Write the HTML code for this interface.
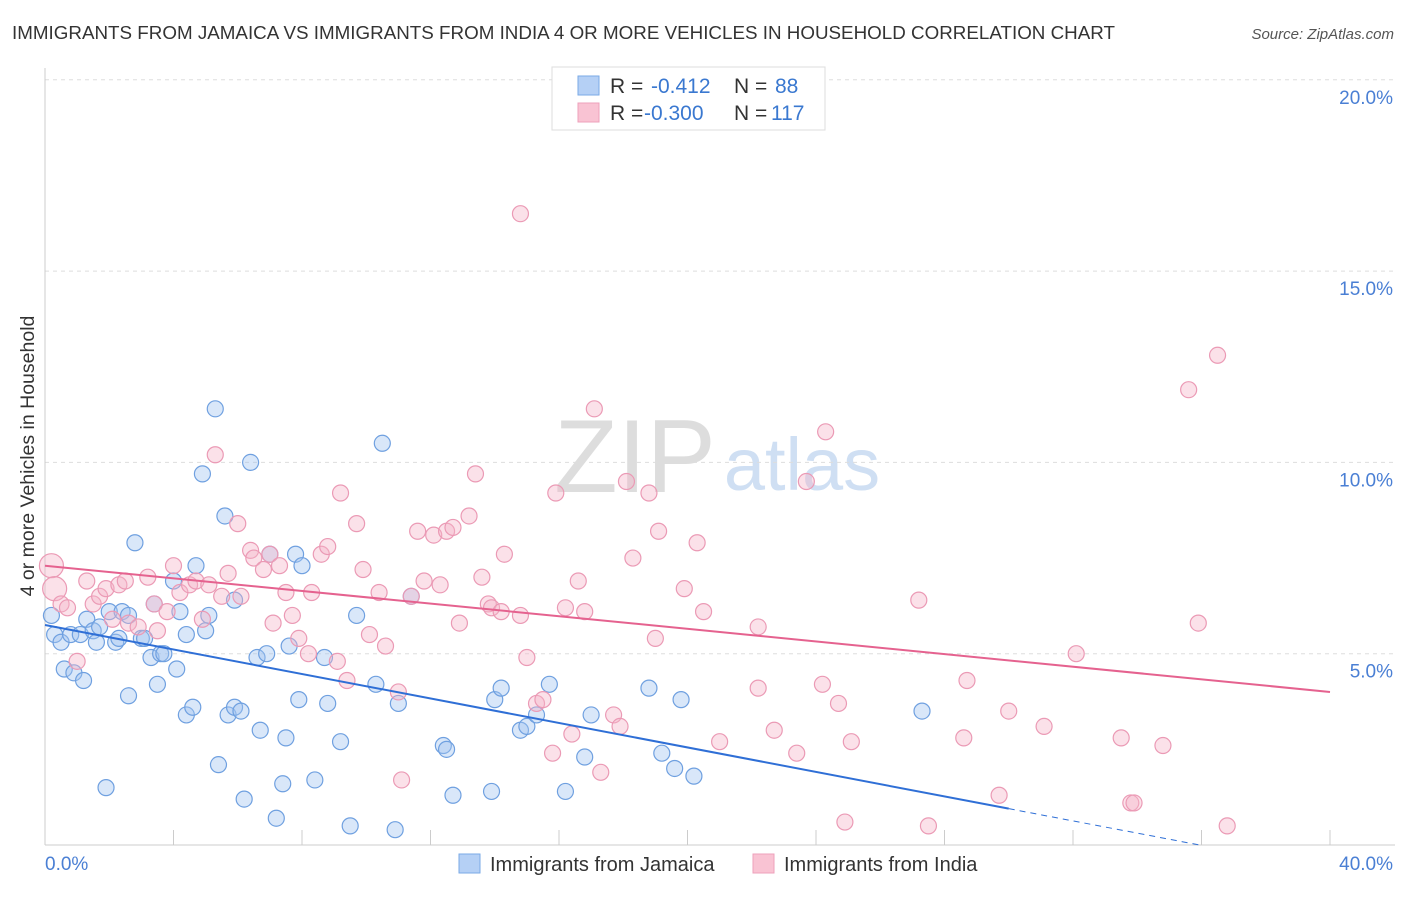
<!DOCTYPE html>
<html><head><meta charset="utf-8"><style>
body{margin:0;background:#fff;font-family:"Liberation Sans",sans-serif;}
svg text{font-family:"Liberation Sans",sans-serif;}
</style></head><body>
<svg id="chart" width="1406" height="892" xmlns="http://www.w3.org/2000/svg">
<text x="12" y="39" font-size="18.5" fill="#333" textLength="1103" lengthAdjust="spacingAndGlyphs">IMMIGRANTS FROM JAMAICA VS IMMIGRANTS FROM INDIA 4 OR MORE VEHICLES IN HOUSEHOLD CORRELATION CHART</text>
<text x="1394" y="39" font-size="15" fill="#555" text-anchor="end" font-style="italic">Source: ZipAtlas.com</text>
<text transform="translate(34,456) rotate(-90)" font-size="19.5" fill="#333" text-anchor="middle">4 or more Vehicles in Household</text>
<g>
<text x="635" y="492" font-size="104" fill="#d0d0d0" font-family="Liberation Serif,serif" text-anchor="middle" opacity="0.7">ZIP</text>
<text x="802" y="490" font-size="74" fill="#bcd2ee" text-anchor="middle" opacity="0.7">atlas</text>
</g>
<g id="grid"></g><g id="axes"></g><g id="pts"></g><g id="lines"></g>
<g>
<rect x="552" y="67" width="273" height="63" fill="#fff" stroke="#ddd"/>
<rect x="578" y="76" width="21" height="19" fill="#b5d0f5" stroke="#7aaae6"/>
<rect x="578" y="103" width="21" height="19" fill="#f9c3d3" stroke="#eea0bb"/>
<text x="610" y="93" font-size="21" fill="#333">R =</text><text x="651" y="93" font-size="21" fill="#3a78d0">-0.412</text>
<text x="734" y="93" font-size="21" fill="#333">N =</text><text x="775" y="93" font-size="21" fill="#3a78d0">88</text>
<text x="610" y="120" font-size="21" fill="#333">R =</text><text x="644" y="120" font-size="21" fill="#3a78d0">-0.300</text>
<text x="734" y="120" font-size="21" fill="#333">N =</text><text x="771" y="120" font-size="21" fill="#3a78d0">117</text>
</g>
<g>
<rect x="459" y="854" width="21" height="19" fill="#b5d0f5" stroke="#7aaae6"/>
<text x="490" y="871" font-size="20" fill="#333">Immigrants from Jamaica</text>
<rect x="753" y="854" width="21" height="19" fill="#f9c3d3" stroke="#eea0bb"/>
<text x="784" y="871" font-size="20" fill="#333">Immigrants from India</text>
</g>
</svg>
<script>
const yTicks=[5,10,15,20];
const yTickLabels=["5.0%","10.0%","15.0%","20.0%"];
const xTickLabels=["0.0%","40.0%"];
const blueX=[0.2,0.3,0.5,0.6,0.8,0.9,1.1,1.2,1.3,1.5,1.6,1.7,1.9,2.0,2.2,2.3,2.4,2.6,2.6,2.8,3.0,3.1,3.3,3.4,3.5,3.6,3.7,4.0,4.1,4.2,4.4,4.4,4.6,4.7,4.9,5.0,5.1,5.3,5.4,5.6,5.7,5.9,5.9,6.1,6.2,6.4,6.6,6.7,6.9,7.0,7.2,7.4,7.5,7.6,7.8,7.9,8.0,8.4,8.7,8.8,9.2,9.5,9.7,10.3,10.5,10.9,11.0,11.4,12.4,12.5,12.7,13.9,14.0,14.2,14.8,15.0,15.3,15.7,16.2,16.8,17.0,18.8,19.2,19.6,19.8,20.2,27.3];
const blueY=[6.0,5.5,5.3,4.6,5.5,4.5,5.5,4.3,5.9,5.6,5.3,5.7,1.5,6.1,5.3,5.4,6.1,6.0,3.9,7.9,5.4,5.4,4.9,6.3,4.2,5.0,5.0,6.9,4.6,6.1,5.5,3.4,3.6,7.3,9.7,5.6,6.0,11.4,2.1,8.6,3.4,6.4,3.6,3.5,1.2,10.0,4.9,3.0,5.0,7.6,0.7,1.6,2.8,5.2,7.6,3.8,7.3,1.7,4.9,3.7,2.7,0.5,6.0,4.2,10.5,0.4,3.7,6.5,2.6,2.5,1.3,1.4,3.8,4.1,3.0,3.1,3.4,4.2,1.4,2.3,3.4,4.1,2.4,2.0,3.8,1.8,3.5];
const pinkX=[0.2,0.3,0.5,0.7,1.0,1.3,1.5,1.7,1.9,2.1,2.3,2.5,2.6,2.9,3.2,3.4,3.5,3.8,4.0,4.2,4.5,4.7,4.9,5.1,5.3,5.5,5.7,6.0,6.1,6.4,6.5,6.8,7.0,7.1,7.3,7.5,7.7,7.9,8.2,8.3,8.6,8.8,9.1,9.2,9.4,9.7,9.9,10.1,10.4,10.6,11.0,11.1,11.4,11.6,11.8,12.1,12.3,12.5,12.7,12.9,13.2,13.4,13.6,13.8,13.9,14.2,14.3,14.8,14.8,15.0,15.3,15.5,15.8,15.9,16.2,16.4,16.6,16.8,17.1,17.3,17.7,17.9,18.1,18.3,18.8,19.0,19.1,19.9,20.3,20.5,21.0,22.2,22.2,22.7,23.4,23.7,24.2,24.3,24.7,24.9,25.1,27.2,27.5,28.6,28.7,29.7,30.0,31.1,32.1,33.5,33.8,33.9,34.8,35.6,35.9,36.5,36.8];
const pinkY=[7.3,6.7,6.3,6.2,4.8,6.9,6.3,6.5,6.7,5.9,6.8,6.9,5.8,5.7,7.0,6.3,5.6,6.1,7.3,6.6,6.8,6.9,5.9,6.8,10.2,6.5,7.1,8.4,6.5,7.7,7.5,7.2,7.6,5.8,7.3,6.6,6.0,5.4,5.0,6.6,7.6,7.8,4.8,9.2,4.3,8.4,7.2,5.5,6.6,5.2,4.0,1.7,6.5,8.2,6.9,8.1,6.8,8.2,8.3,5.8,8.6,9.7,7.0,6.3,6.2,6.1,7.6,6.0,16.5,4.9,3.7,3.8,2.4,9.2,6.2,2.9,6.9,6.1,11.4,1.9,3.4,3.1,9.5,7.5,9.2,5.4,8.2,6.7,7.9,6.1,2.7,4.1,5.7,3.0,2.4,9.5,4.2,10.8,3.7,0.6,2.7,6.4,0.5,2.8,4.3,1.3,3.5,3.1,5.0,2.8,1.1,1.1,2.6,11.9,5.8,12.8,0.5];
const blueLine=[5.75,-0.16];
const pinkLine=[7.3,-0.0825];
const blueSolidEnd=30, blueDashEnd=36, pinkEnd=40;
const X=v=>45+v*32.125, Y=v=>845-v*38.26;
const NS="http://www.w3.org/2000/svg";
function mk(tag,attrs,parent){const e=document.createElementNS(NS,tag);for(const k in attrs)e.setAttribute(k,attrs[k]);document.getElementById(parent).appendChild(e);return e;}
yTicks.forEach((t,i)=>{
  const l=mk('line',{x1:45,x2:1395,y1:Y(t),y2:Y(t),stroke:'#ddd','stroke-dasharray':'4,4'},'grid');
  
  
  const tx=mk('text',{x:1393,y:Y(t)+24,'font-size':19,fill:'#4a7fd4','text-anchor':'end'},'grid');
  tx.textContent=yTickLabels[i];
  
  
});
let a=mk('line',{x1:45,x2:45,y1:68,y2:845,stroke:'#ccc'},'axes');


a=mk('line',{x1:45,x2:1395,y1:845,y2:845,stroke:'#ccc'},'axes');


for(let i=0;i<=10;i++){const t=mk('line',{x1:X(i*4),x2:X(i*4),y1:830,y2:845,stroke:'#ccc'},'axes');
  
  }
[[0,'start',45],[40,'end',1393]].forEach((d,i)=>{const t=mk('text',{x:d[2],y:870,'font-size':19,fill:'#4a7fd4','text-anchor':d[1]},'axes');t.textContent=xTickLabels[i];
  
  });
blueX.forEach((x,i)=>{const c=mk('circle',{cx:X(x),cy:Y(blueY[i]),r:8,fill:'rgba(160,195,240,0.4)',stroke:'#6fa0e0','stroke-width':1.2},'pts');
  
  });
pinkX.forEach((x,i)=>{const c=mk('circle',{cx:X(x),cy:Y(pinkY[i]),r:i<2?12:8,fill:'rgba(245,180,200,0.4)',stroke:'#eb9ab5','stroke-width':1.2},'pts');
  
  });
const f=(L,x)=>L[0]+L[1]*x;
let l=mk('line',{x1:X(0),y1:Y(f(blueLine,0)),x2:X(blueSolidEnd),y2:Y(f(blueLine,blueSolidEnd)),stroke:'#2f6fd6','stroke-width':2},'lines');


l=mk('line',{x1:X(blueSolidEnd),y1:Y(f(blueLine,blueSolidEnd)),x2:X(blueDashEnd),y2:Y(f(blueLine,blueDashEnd)),stroke:'#2f6fd6','stroke-width':1,'stroke-dasharray':'6,5'},'lines');


l=mk('line',{x1:X(0),y1:Y(f(pinkLine,0)),x2:X(pinkEnd),y2:Y(f(pinkLine,pinkEnd)),stroke:'#e5628f','stroke-width':2},'lines');


</script>
</body></html>
